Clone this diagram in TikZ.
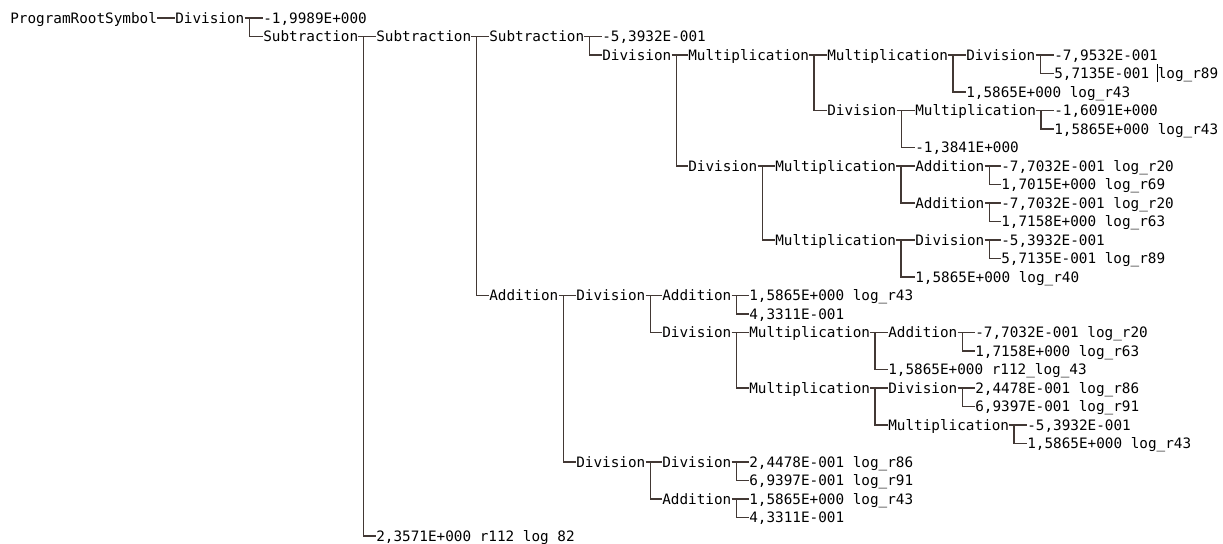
\documentclass[tikz,border=0pt]{standalone}
\usepackage{fontspec}
\setmonofont{DejaVu Sans Mono}
\definecolor{treeline}{RGB}{66,56,52}

\begin{document}
\begin{tikzpicture}[x=0.75pt,y=-0.75pt,
  lbl/.style={anchor=west, inner sep=0pt, text height=7.6pt, text depth=0pt,
    font=\ttfamily\fontsize{10.75pt}{13pt}\selectfont},
  link/.style={treeline, line width=0.8pt}]
\useasboundingbox (0,0) rectangle (1223,543);
\node[lbl] (r0a) at (10,18) {ProgramRootSymbol};
\node[lbl] (r0b) at (175,18) {Division};
\node[lbl] (r0c) at (263,18) {-1,9989E+000};
\node[lbl] (r1a) at (263,36.5) {Subtraction};
\node[lbl] (r1b) at (376,36.5) {Subtraction};
\node[lbl] (r1c) at (489,36.5) {Subtraction};
\node[lbl] (r1d) at (602,36.5) {-5,3932E-001};
\node[lbl] (r2a) at (602,55) {Division};
\node[lbl] (r2b) at (688,55) {Multiplication};
\node[lbl] (r2c) at (827,55) {Multiplication};
\node[lbl] (r2d) at (966,55) {Division};
\node[lbl] (r2e) at (1054,55) {-7,9532E-001};
\node[lbl] (r3a) at (1054,73.5) {5,7135E-001 log\_r89};
\node[lbl] (r4a) at (966,92) {1,5865E+000 log\_r43};
\node[lbl] (r5a) at (827,110.5) {Division};
\node[lbl] (r5b) at (915,110.5) {Multiplication};
\node[lbl] (r5c) at (1054,110.5) {-1,6091E+000};
\node[lbl] (r6a) at (1054,129) {1,5865E+000 log\_r43};
\node[lbl] (r7a) at (915,147.5) {-1,3841E+000};
\node[lbl] (r8a) at (688,166) {Division};
\node[lbl] (r8b) at (775,166) {Multiplication};
\node[lbl] (r8c) at (915,166) {Addition};
\node[lbl] (r8d) at (1001,166) {-7,7032E-001 log\_r20};
\node[lbl] (r9a) at (1001,184.5) {1,7015E+000 log\_r69};
\node[lbl] (r10a) at (915,203) {Addition};
\node[lbl] (r10b) at (1001,203) {-7,7032E-001 log\_r20};
\node[lbl] (r11a) at (1001,221.5) {1,7158E+000 log\_r63};
\node[lbl] (r12a) at (775,240) {Multiplication};
\node[lbl] (r12b) at (915,240) {Division};
\node[lbl] (r12c) at (1001,240) {-5,3932E-001};
\node[lbl] (r13a) at (1001,258.5) {5,7135E-001 log\_r89};
\node[lbl] (r14a) at (915,277) {1,5865E+000 log\_r40};
\node[lbl] (r15a) at (489,295.5) {Addition};
\node[lbl] (r15b) at (576,295.5) {Division};
\node[lbl] (r15c) at (662,295.5) {Addition};
\node[lbl] (r15d) at (749,295.5) {1,5865E+000 log\_r43};
\node[lbl] (r16a) at (749,314) {4,3311E-001};
\node[lbl] (r17a) at (662,332.5) {Division};
\node[lbl] (r17b) at (749,332.5) {Multiplication};
\node[lbl] (r17c) at (888,332.5) {Addition};
\node[lbl] (r17d) at (975,332.5) {-7,7032E-001 log\_r20};
\node[lbl] (r18a) at (975,351) {1,7158E+000 log\_r63};
\node[lbl] (r19a) at (888,369.5) {1,5865E+000 r112\_log\_43};
\node[lbl] (r20a) at (749,388) {Multiplication};
\node[lbl] (r20b) at (888,388) {Division};
\node[lbl] (r20c) at (975,388) {2,4478E-001 log\_r86};
\node[lbl] (r21a) at (975,406.5) {6,9397E-001 log\_r91};
\node[lbl] (r22a) at (888,425) {Multiplication};
\node[lbl] (r22b) at (1027,425) {-5,3932E-001};
\node[lbl] (r23a) at (1027,443.5) {1,5865E+000 log\_r43};
\node[lbl] (r24a) at (576,462) {Division};
\node[lbl] (r24b) at (662,462) {Division};
\node[lbl] (r24c) at (749,462) {2,4478E-001 log\_r86};
\node[lbl] (r25a) at (749,480.5) {6,9397E-001 log\_r91};
\node[lbl] (r26a) at (662,499) {Addition};
\node[lbl] (r26b) at (749,499) {1,5865E+000 log\_r43};
\node[lbl] (r27a) at (749,517.5) {4,3311E-001};
\node[lbl] (r28a) at (376,536) {2,3571E+000 r112 log 82};
\draw[link] (r0a.east) -- (r0b.west);
\draw[link] (r0b.east) -- (r0c.west) ([xshift=3.5pt]r0b.east) |- (r1a.west);
\draw[link] (r1a.east) -- (r1b.west) ([xshift=3.5pt]r1a.east) |- (r28a.west);
\draw[link] (r1b.east) -- (r1c.west) ([xshift=3.5pt]r1b.east) |- (r15a.west);
\draw[link] (r1c.east) -- (r1d.west) ([xshift=3.5pt]r1c.east) |- (r2a.west);
\draw[link] (r2a.east) -- (r2b.west) ([xshift=3.5pt]r2a.east) |- (r8a.west);
\draw[link] (r2b.east) -- (r2c.west) ([xshift=3.5pt]r2b.east) |- (r5a.west);
\draw[link] (r2c.east) -- (r2d.west) ([xshift=3.5pt]r2c.east) |- (r4a.west);
\draw[link] (r2d.east) -- (r2e.west) ([xshift=3.5pt]r2d.east) |- (r3a.west);
\draw[link] (r5a.east) -- (r5b.west) ([xshift=3.5pt]r5a.east) |- (r7a.west);
\draw[link] (r5b.east) -- (r5c.west) ([xshift=3.5pt]r5b.east) |- (r6a.west);
\draw[link] (r8a.east) -- (r8b.west) ([xshift=3.5pt]r8a.east) |- (r12a.west);
\draw[link] (r8b.east) -- (r8c.west) ([xshift=3.5pt]r8b.east) |- (r10a.west);
\draw[link] (r8c.east) -- (r8d.west) ([xshift=3.5pt]r8c.east) |- (r9a.west);
\draw[link] (r10a.east) -- (r10b.west) ([xshift=3.5pt]r10a.east) |- (r11a.west);
\draw[link] (r12a.east) -- (r12b.west) ([xshift=3.5pt]r12a.east) |- (r14a.west);
\draw[link] (r12b.east) -- (r12c.west) ([xshift=3.5pt]r12b.east) |- (r13a.west);
\draw[link] (r15a.east) -- (r15b.west) ([xshift=3.5pt]r15a.east) |- (r24a.west);
\draw[link] (r15b.east) -- (r15c.west) ([xshift=3.5pt]r15b.east) |- (r17a.west);
\draw[link] (r15c.east) -- (r15d.west) ([xshift=3.5pt]r15c.east) |- (r16a.west);
\draw[link] (r17a.east) -- (r17b.west) ([xshift=3.5pt]r17a.east) |- (r20a.west);
\draw[link] (r17b.east) -- (r17c.west) ([xshift=3.5pt]r17b.east) |- (r19a.west);
\draw[link] (r17c.east) -- (r17d.west) ([xshift=3.5pt]r17c.east) |- (r18a.west);
\draw[link] (r20a.east) -- (r20b.west) ([xshift=3.5pt]r20a.east) |- (r22a.west);
\draw[link] (r20b.east) -- (r20c.west) ([xshift=3.5pt]r20b.east) |- (r21a.west);
\draw[link] (r22a.east) -- (r22b.west) ([xshift=3.5pt]r22a.east) |- (r23a.west);
\draw[link] (r24a.east) -- (r24b.west) ([xshift=3.5pt]r24a.east) |- (r26a.west);
\draw[link] (r24b.east) -- (r24c.west) ([xshift=3.5pt]r24b.east) |- (r25a.west);
\draw[link] (r26a.east) -- (r26b.west) ([xshift=3.5pt]r26a.east) |- (r27a.west);
\draw[black, line width=0.5pt] (1157.5,64) -- (1157.5,82);
\end{tikzpicture}
\end{document}
